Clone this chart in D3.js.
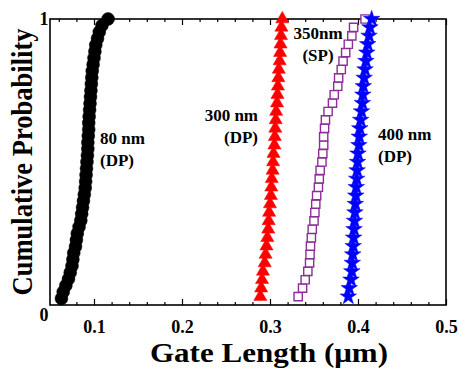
<!DOCTYPE html>
<html>
<head>
<meta charset="utf-8">
<script src="https://cdn.jsdelivr.net/npm/d3@7"></script>
<style>
  body { margin: 0; background: #fff; }
  text { font-family: "Liberation Serif", "Times New Roman", serif; font-weight: bold; }
</style>
</head>
<body>
<div id="chart"></div>
<script>
// gate lengths (um), sorted
const dp80 = [0.063, 0.065, 0.068, 0.071, 0.073, 0.075, 0.076, 0.077, 0.079, 0.080,
  0.081, 0.083, 0.085, 0.086, 0.087, 0.088, 0.089, 0.090, 0.0905, 0.091,
  0.0915, 0.092, 0.0925, 0.093, 0.093, 0.0935, 0.094, 0.094, 0.0945, 0.095,
  0.0955, 0.096, 0.0965, 0.097, 0.0975, 0.098, 0.099, 0.100, 0.101, 0.102,
  0.104, 0.106, 0.109, 0.116]
const dp300 = [0.289, 0.290, 0.291, 0.292, 0.294, 0.295, 0.296, 0.297, 0.298, 0.2985,
  0.299, 0.300, 0.301, 0.3015, 0.302, 0.303, 0.3035, 0.304, 0.305, 0.3055,
  0.306, 0.3065, 0.307, 0.308, 0.3085, 0.309, 0.3095, 0.310, 0.311, 0.3115,
  0.312, 0.3125, 0.313, 0.314]
const sp350 = [0.332, 0.337, 0.340, 0.343, 0.345, 0.3455, 0.346, 0.347, 0.348, 0.350,
  0.351, 0.352, 0.353, 0.355, 0.356, 0.357, 0.359, 0.360, 0.361, 0.361,
  0.362, 0.363, 0.366, 0.371, 0.373, 0.377, 0.378, 0.381, 0.383, 0.386,
  0.389, 0.393, 0.395, 0.408]
const dp400 = [0.389, 0.390, 0.392, 0.393, 0.3935, 0.394, 0.3945, 0.395, 0.3955, 0.396,
  0.3965, 0.397, 0.3975, 0.398, 0.3985, 0.399, 0.3995, 0.400, 0.401, 0.4015,
  0.402, 0.403, 0.404, 0.405, 0.4055, 0.406, 0.407, 0.408, 0.409, 0.410,
  0.411, 0.4125, 0.4135, 0.4155]

const xMajorTicks = [0.1, 0.2, 0.3, 0.4, 0.5]
const xMinorTicks = [0.06, 0.08, 0.12, 0.14, 0.16, 0.18, 0.22, 0.24, 0.26, 0.28,
  0.32, 0.34, 0.36, 0.38, 0.42, 0.44, 0.46, 0.48]
const yTickLabels = ["0", "1"]

const series = [
  { data: dp80, symbol: "circle", color: "#000", label: ["80 nm", "(DP)"] },
  { data: dp300, symbol: "triangle", color: "#ff0000", label: ["300 nm", "(DP)"] },
  { data: sp350, symbol: "square", color: "#8b2f97", label: ["350nm", "(SP)"] },
  { data: dp400, symbol: "star", color: "#0000ff", label: ["400 nm", "(DP)"] }
]

const width = 459
const height = 369
const margin = { top: 19, right: 13, bottom: 64, left: 50 }
const innerW = width - margin.left - margin.right
const innerH = height - margin.top - margin.bottom

const svg = d3.select("#chart").append("svg")
  .attr("width", width)
  .attr("height", height)

const x = d3.scaleLinear().domain([0.05, 0.5]).range([margin.left, margin.left + innerW])
const y = d3.scaleLinear().domain([0, 1]).range([margin.top + innerH, margin.top])

// ticks, inward on bottom and top
const bottomG = svg.append("g").attr("transform", `translate(0,${margin.top + innerH})`)
bottomG.call(d3.axisBottom(x).tickValues(xMajorTicks).tickSize(-6).tickFormat(d3.format(".1f")))
bottomG.append("g").call(d3.axisBottom(x).tickValues(xMinorTicks).tickSize(-3).tickFormat(""))
const topG = svg.append("g").attr("transform", `translate(0,${margin.top})`)
topG.call(d3.axisTop(x).tickValues(xMajorTicks).tickSize(-6).tickFormat(""))
topG.append("g").call(d3.axisTop(x).tickValues(xMinorTicks).tickSize(-3).tickFormat(""))

svg.selectAll(".domain").remove()
svg.selectAll(".tick line").attr("stroke", "#000").attr("stroke-width", 1.2)
bottomG.selectAll(".tick text")
  .attr("dy", null)
  .attr("y", 28)
  .style("font-size", "18px")
  .style("font-family", "'Liberation Serif', serif")
  .style("font-weight", "bold")
  .attr("fill", "#000")

// frame
svg.append("rect")
  .attr("x", margin.left)
  .attr("y", margin.top)
  .attr("width", innerW)
  .attr("height", innerH)
  .attr("fill", "none")
  .attr("stroke", "#000")
  .attr("stroke-width", 1.6)

// y labels only at 0 and 1
svg.selectAll(".ylab")
  .data(yTickLabels)
  .enter().append("text")
  .attr("class", "ylab")
  .attr("x", 44)
  .attr("y", (d, i) => i === 0 ? 321 : 25)
  .attr("text-anchor", "middle")
  .style("font-size", "18px")
  .text(d => d)

// symbols
const symbolType = {
  circle: d3.symbolCircle,
  triangle: d3.symbolTriangle,
  square: d3.symbolSquare,
  star: d3.symbolStar
}
const symbolSize = { circle: 130, triangle: 75, square: 68, star: 85 }

series.forEach(s => {
  const n = s.data.length
  const pts = s.data.map((v, i) => ({ x: v, p: (i + 1) / n }))
  const gen = d3.symbol().type(symbolType[s.symbol]).size(symbolSize[s.symbol])
  svg.append("g")
    .selectAll("path")
    .data(pts)
    .enter().append("path")
    .attr("transform", d => `translate(${x(d.x)},${y(d.p)})`)
    .attr("d", gen)
    .attr("fill", s.symbol === "square" ? "#fff" : s.color)
    .attr("stroke", s.color)
    .attr("stroke-width", s.symbol === "square" ? 1.4 : 0.5)
})

// series annotations
const notes = [
  { lines: series[0].label, x: 100, y: 144, anchor: "start" },
  { lines: series[1].label, x: 258, y: 121, anchor: "end" },
  { lines: series[2].label, x: 318, y: 39, anchor: "middle" },
  { lines: series[3].label, x: 378, y: 140, anchor: "start" }
]
notes.forEach(nt => {
  const t = svg.append("text")
    .attr("x", nt.x)
    .attr("y", nt.y)
    .attr("text-anchor", nt.anchor)
    .style("font-size", "17px")
  nt.lines.forEach((ln, i) => {
    t.append("tspan")
      .attr("x", nt.x)
      .attr("dy", i === 0 ? 0 : 22)
      .text(ln)
  })
})

// axis titles
svg.append("text")
  .attr("x", 269)
  .attr("y", 362)
  .attr("text-anchor", "middle")
  .attr("textLength", 238)
  .attr("lengthAdjust", "spacingAndGlyphs")
  .style("font-size", "28px")
  .text("Gate Length (\u03bcm)")

svg.append("text")
  .attr("transform", "translate(32,162) rotate(-90)")
  .attr("text-anchor", "middle")
  .attr("textLength", 267)
  .attr("lengthAdjust", "spacingAndGlyphs")
  .style("font-size", "29px")
  .text("Cumulative Probability")
</script>
</body>
</html>
